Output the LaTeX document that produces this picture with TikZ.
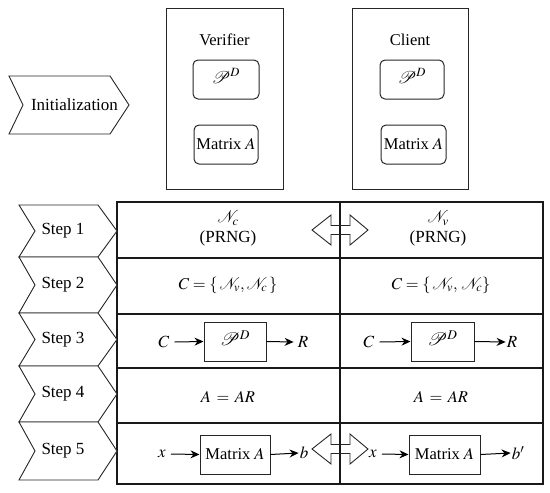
\documentclass[tikz,border=0pt]{standalone}
\usepackage{mathptmx}
\usepackage{fontspec}
\setmainfont{Liberation Serif}
\newfontfamily\tnr{Liberation Serif}
\usetikzlibrary{arrows.meta}
\tikzset{
  lbl/.style={inner sep=0pt, font=\tnr\fontsize{16.5}{19}\selectfont},
  big/.style={font=\tnr\fontsize{17}{19}\selectfont},
  outerbox/.style={draw=black!85, line width=1pt},
  rbox/.style={draw=black!85, line width=1pt, rounded corners=5pt},
  sbox/.style={draw=black!85, line width=1pt},
  grid/.style={draw=black!90, line width=1.1pt},
  chev/.style={draw=black!85, line width=0.9pt, fill=white},
  dbl/.style={draw=black!85, line width=0.9pt},
  flow/.style={-{Stealth[length=9pt,width=8pt]}, line width=1pt},
}
\begin{document}
\begin{tikzpicture}[x=1pt,y=-1pt]
\useasboundingbox (0,0) rectangle (550,493);
% top boxes
\node[outerbox, minimum width=117pt, minimum height=181pt, inner sep=0pt] (ver) at (224.5,98.5) {};
\node[outerbox, minimum width=116pt, minimum height=181pt, inner sep=0pt] (cli) at (410,98.5) {};
\node[lbl] (verl) at (224.5,40) {Verifier};
\node[lbl] (clil) at (410,40) {Client};
\node[rbox, minimum width=66pt, minimum height=39pt, inner sep=0pt] (vp) at (226,79.5) {};
\node[lbl, big] at (226,76) {$\mathcal{P}^{D}$};
\node[rbox, minimum width=64pt, minimum height=39pt, inner sep=0pt] (vm) at (226,144.5) {};
\node[lbl] at (226,144.5) {Matrix $A$};
\node[rbox, minimum width=64pt, minimum height=39pt, inner sep=0pt] (cp) at (412,79.5) {};
\node[lbl, big] at (412,76) {$\mathcal{P}^{D}$};
\node[rbox, minimum width=65pt, minimum height=39pt, inner sep=0pt] (cm) at (413.5,144.5) {};
\node[lbl] at (413.5,144.5) {Matrix $A$};
% initialization chevron
\draw[chev] (9,76) -- (110,76) -- (129,105) -- (110,134) -- (9,134) -- (23,105) -- cycle;
\node[lbl, big] (init) at (74.5,105) {Initialization};
% table
\draw[grid] (117,202) rectangle (543,484);
\foreach \yy in {258,314,368,423} \draw[grid] (117,\yy) -- (543,\yy);
\draw[grid] (340,202) -- (340,484);
% step chevrons
\foreach \a/\b/\n in {205/257/1, 257/313/2, 313/366/3, 366/422/4, 422/480/5}{
  \draw[chev] (19,\a) -- (98,\a) -- (117,{(\a+\b)/2}) -- (98,\b) -- (19,\b) -- (35,{(\a+\b)/2}) -- cycle;
  \node[lbl, big] (step\n) at (63,{(\a+\b)/2}) {Step \n};
}
% row 1
\node[lbl, big] (nc) at (228,218) {$\mathcal{N}_c$};
\node[lbl, big] (prl) at (228,238) {(PRNG)};
\node[lbl, big] (nv) at (438,218) {$\mathcal{N}_v$};
\node[lbl, big] (prr) at (438,238) {(PRNG)};
% row 2
\node[lbl] (c2l) at (228,285) {$C=\{\,\mathcal{N}_v,\mathcal{N}_c\,\}$};
\node[lbl] (c2r) at (441,285) {$C=\{\,\mathcal{N}_v,\,\mathcal{N}_c\}$};
% row 3
\node[lbl, big] (c3l) at (164,342) {$C$};
\node[sbox, minimum width=62pt, minimum height=39pt, inner sep=0pt] (p3l) at (235,341.5) {};
\node[lbl, font=\fontsize{18}{20}\selectfont] at (235,338) {$\mathcal{P}^{D}$};
\node[lbl, big] (r3l) at (303,342) {$R$};
\draw[flow] (c3l.east) ++(5,0) -- (p3l.west);
\draw[flow] (p3l.east) -- ([xshift=-4pt]r3l.west);
\node[lbl, big] (c3r) at (369,342) {$C$};
\node[sbox, minimum width=63pt, minimum height=39pt, inner sep=0pt] (p3r) at (442.5,341.5) {};
\node[lbl, font=\fontsize{18}{20}\selectfont] at (442.5,338) {$\mathcal{P}^{D}$};
\node[lbl, big] (r3r) at (512,342) {$R$};
\draw[flow] (c3r.east) ++(5,0) -- (p3r.west);
\draw[flow] (p3r.east) -- ([xshift=-1pt]r3r.west);
% row 4
\node[lbl] (a4l) at (228,397) {$A\,=\,AR$};
\node[lbl] (a4r) at (441,397) {$A\,=\,AR$};
% row 5
\node[lbl, big] (x5l) at (162,454) {$x$};
\node[sbox, minimum width=70pt, minimum height=39pt, inner sep=0pt] (m5l) at (235,454.5) {};
\node[lbl] at (235,454.5) {Matrix $A$};
\node[lbl, big] (b5l) at (304,453) {$b$};
\draw[flow] (x5l.east) ++(5,0) -- (m5l.west);
\draw[flow] (m5l.east) -- ([xshift=-1pt]b5l.west);
\node[lbl, big] (x5r) at (373,454) {$x$};
\node[sbox, minimum width=71pt, minimum height=39pt, inner sep=0pt] (m5r) at (444.5,454.5) {};
\node[lbl] at (444.5,454.5) {Matrix $A$};
\node[lbl, big] (b5r) at (518,453) {$b'$};
\draw[flow] (x5r.east) ++(5,0) -- (m5r.west);
\draw[flow] (m5r.east) -- ([xshift=-1pt]b5r.west);
% double arrows
\foreach \cy in {230,449}{
  \draw[dbl] (312,\cy) -- (331,{\cy-15}) -- (331,{\cy-4.5}) -- (350,{\cy-4.5}) -- (350,{\cy-15}) -- (368,\cy)
    -- (350,{\cy+15}) -- (350,{\cy+4.5}) -- (331,{\cy+4.5}) -- (331,{\cy+15}) -- cycle;
}
\end{tikzpicture}
\end{document}
